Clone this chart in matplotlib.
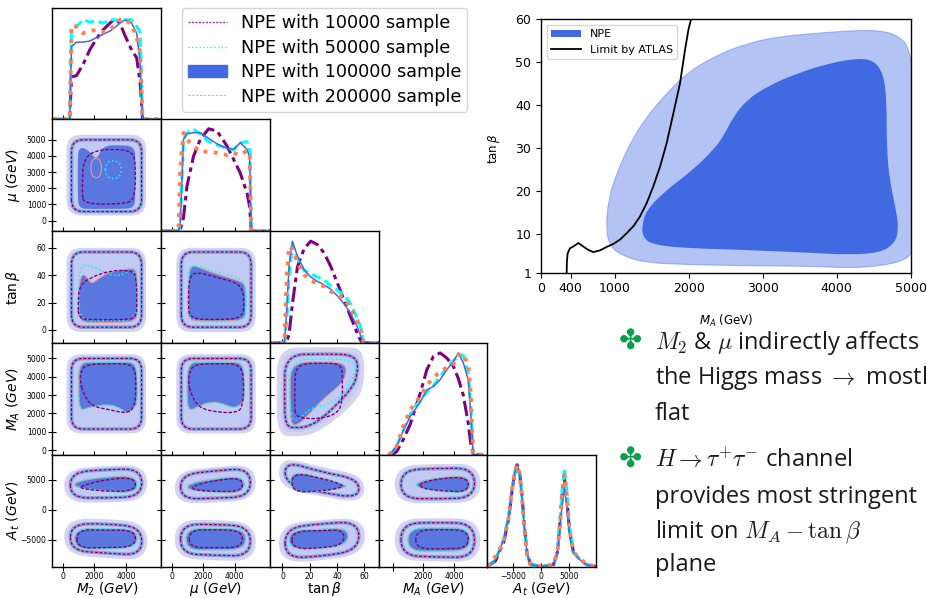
import numpy as np
import matplotlib
matplotlib.use("Agg")
import matplotlib.pyplot as plt
from matplotlib.path import Path
from matplotlib.patches import PathPatch, Patch
from matplotlib.lines import Line2D
from matplotlib.transforms import blended_transform_factory

# ---------------------------------------------------------------------------
# 1D marginals: density heights given as fraction of the panel height
# ---------------------------------------------------------------------------
M2_GRID = [-600, 450, 560, 870, 1290, 1710, 2140, 2560, 2990, 3300, 3620, 3940, 4360, 4680, 4900, 5050, 6200]
M2_10K = [0, 0, .38, .39, .49, .62, .72, .80, .86, .90, .86, .75, .62, .55, .33, 0, 0]
M2_50K = [0, 0, .80, .83, .89, .87, .88, .86, .89, .89, .88, .89, .89, .83, .78, 0, 0]
M2_100K = [0, 0, .65, .69, .69, .70, .73, .76, .79, .82, .86, .89, .86, .77, .50, 0, 0]
M2_200K = [0, 0, .84, .83, .77, .79, .80, .78, .80, .84, .89, .90, .84, .73, .60, 0, 0]

MU_GRID = [-650, 420, 530, 740, 960, 1380, 1810, 2340, 2880, 3520, 3940, 4360, 4790, 4960, 5060, 6250]
MU_10K = [0, 0, .01, .12, .40, .67, .82, .915, .895, .76, .64, .52, .34, .22, 0, 0]
MU_50K = [0, 0, .05, .82, .88, .91, .87, .80, .77, .74, .73, .79, .80, .72, 0, 0]
MU_100K = [0, 0, .05, .82, .87, .88, .88, .83, .78, .74, .73, .79, .73, .66, 0, 0]
MU_200K = [0, 0, .55, .88, .82, .76, .71, .71, .70, .68, .70, .68, .72, .70, 0, 0]

TB_GRID = [-9.5, 1.5, 3.2, 4.9, 7.3, 11, 15.8, 20.7, 25.6, 30.5, 35.4, 40.3, 45.1, 50, 54.9, 57.4, 59.5, 72]
TB_10K = [0, 0, .01, .08, .35, .68, .84, .91, .88, .805, .685, .535, .384, .234, .084, .02, 0, 0]
TB_50K = [0, 0, .2, .6, .88, .76, .65, .62, .59, .565, .51, .47, .43, .35, .22, .14, 0, 0]
TB_100K = [0, 0, .3, .7, .91, .775, .655, .59, .55, .52, .48, .42, .35, .264, .144, .06, 0, 0]
TB_200K = [0, 0, .62, .865, .84, .715, .61, .56, .53, .505, .46, .43, .40, .31, .20, .11, 0, 0]

MA_GRID = [-250, -40, 280, 710, 1140, 1790, 2220, 2650, 3080, 3510, 3940, 4260, 4580, 4900, 5060, 5220, 5850]
MA_10K = [0, 0, .03, .14, .27, .55, .76, .88, .91, .865, .79, .68, .53, .28, .10, 0, 0]
MA_50K = [0, .02, .08, .22, .36, .49, .56, .62, .70, .78, .84, .88, .89, .72, .45, 0, 0]
MA_100K = [0, .02, .08, .22, .34, .47, .58, .61, .67, .76, .835, .91, .82, .67, .37, 0, 0]
MA_200K = [0, .02, .08, .26, .40, .52, .62, .69, .74, .78, .81, .89, .90, .80, .55, 0, 0]

AT_GRID = [-9600, -8150, -6680, -5790, -5200, -4730, -4310, -3850, -3430, -3010, -2540, -1950, 0,
           2190, 2900, 3370, 3720, 4140, 4550, 5020, 5730, 6910, 8100, 9700]
AT_10K = [0, .05, .22, .43, .68, .83, .91, .84, .64, .37, .13, .02, 0, .015, .13, .40, .62, .78, .62, .33, .13, .06, .015, 0]
AT_50K = [0, .06, .25, .46, .70, .84, .90, .83, .62, .35, .12, .015, 0, .015, .14, .42, .68, .88, .68, .36, .13, .06, .015, 0]
AT_100K = [0, .06, .24, .45, .69, .836, .91, .836, .627, .358, .12, .015, 0, .015, .12, .36, .55, .69, .55, .30, .12, .06, .015, 0]
AT_200K = [0, .09, .22, .44, .70, .84, .91, .83, .62, .34, .11, .02, 0, .02, .13, .40, .66, .82, .64, .34, .13, .07, .02, 0]

# ---------------------------------------------------------------------------
# 2D credible regions (box extents or outline control points, data units)
# ---------------------------------------------------------------------------
MU_M2_HAZE = (380, 5140, 440, 5190)
MU_M2_2SIG = (560, 4990, 560, 5000)
MU_M2_1SIG = [(1000, 750), (1800, 720), (3600, 730), (4550, 760), (4600, 1700), (4600, 3600), (4560, 4600),
              (3600, 4680), (2500, 4620), (2150, 3700), (1700, 4350), (1000, 4600), (950, 3500), (960, 1700)]
MU_M2_10K = [(1300, 1150), (2300, 1000), (3600, 1050), (4400, 1150), (4600, 2000), (4600, 3500), (4450, 4300),
             (3000, 4450), (1800, 4250), (1300, 3600), (1250, 2500), (1250, 1600)]
MU_M2_50K = [(2700, 2600), (3700, 2600), (3700, 3700), (2700, 3700)]
MU_M2_200K = [(1800, 2650), (2450, 2650), (2450, 3850), (1800, 3850)]

TB_M2_HAZE = (380, 5140, 0, 58.5)
TB_M2_2SIG = (560, 4990, 2, 57)
TB_M2_1SIG = [(1050, 6), (2000, 5.5), (3600, 5.5), (4650, 6.5), (4720, 15), (4720, 35), (4650, 45), (4000, 44.5),
              (3000, 42.5), (2300, 38), (1800, 33), (1350, 42), (1050, 36), (1000, 20)]
TB_M2_10K = [(1000, 8), (2000, 7.5), (3800, 7.5), (4650, 8.5), (4700, 20), (4650, 40), (4300, 43.5), (3000, 43.5),
             (1700, 38), (1050, 32), (980, 20)]
TB_M2_50K = [(1050, 7), (2800, 6.5), (4650, 7), (4750, 25), (4600, 44), (4000, 42), (3400, 39), (2800, 41.5),
             (1900, 46.5), (1100, 48), (1000, 28)]

TB_MU_HAZE = (420, 5210, 0, 58.5)
TB_MU_2SIG = (600, 5050, 2, 57)
TB_MU_1SIG = [(1100, 7), (2000, 6.5), (3600, 6.5), (4650, 7.5), (4720, 15), (4700, 30), (4550, 35), (3500, 38.5),
              (2300, 43), (1500, 47), (1150, 46), (1050, 35), (1050, 15)]
TB_MU_10K = [(1100, 8), (2900, 7.5), (4500, 8.5), (4620, 20), (4450, 33.5), (3000, 38), (1600, 42.5), (1100, 39),
             (1050, 20)]
TB_MU_50K = [(1050, 6), (2900, 5.5), (4700, 6.5), (4780, 22), (4650, 37.5), (3000, 41.5), (1600, 47.5), (1050, 46),
             (1000, 25)]

MA_M2_HAZE = (380, 5140, 1020, 5120)
MA_M2_2SIG = (560, 4990, 1150, 5000)
MA_M2_1SIG = [(1050, 2150), (1600, 2300), (2200, 2430), (3000, 2480), (3600, 2300), (4100, 1980), (4450, 2300),
              (4720, 2500), (4720, 3700), (4650, 4800), (3600, 4800), (2000, 4800), (1050, 4780), (1000, 3500)]
MA_M2_10K = [(1300, 3100), (1800, 2400), (3000, 2200), (4000, 2000), (4550, 2300), (4650, 3500), (4550, 4700),
             (3000, 4720), (1500, 4680), (1150, 4300), (1100, 3800)]

MA_MU_HAZE = (420, 5210, 1020, 5120)
MA_MU_2SIG = (600, 5050, 1150, 5000)
MA_MU_1SIG = [(1000, 2050), (1800, 2450), (2650, 2650), (3300, 2500), (4000, 2280), (4400, 2500), (4620, 2700),
              (4620, 3700), (4550, 4780), (3500, 4800), (2000, 4800), (1050, 4780), (950, 3500)]
MA_MU_10K = [(1200, 3100), (1700, 2300), (3000, 2050), (4200, 2050), (4500, 2400), (4600, 3500), (4450, 4700),
             (2900, 4720), (1400, 4680), (1100, 4200), (1050, 3700)]

MA_TB_HAZE = [(-2, 950), (8, 850), (18, 900), (30, 1300), (42, 2000), (52, 2700), (58.5, 3500), (58.5, 5450),
              (45, 5500), (20, 5500), (-2, 5450), (-3, 3000)]
MA_TB_2SIG = [(2, 1300), (10, 1200), (20, 1300), (30, 1800), (40, 2500), (50, 3300), (55, 4000), (55, 5200),
              (30, 5250), (2, 5200), (1.5, 3000)]
MA_TB_1SIG = [(6, 1400), (11, 1350), (20, 2000), (30, 2800), (40, 3400), (46, 3900), (47, 4750), (30, 4820),
              (6, 4780), (5.5, 3000)]
MA_TB_10K = [(9.5, 1850), (18, 1700), (30, 1750), (40, 2000), (44, 2600), (44, 4000), (43, 4700), (30, 4750),
             (10, 4700), (9, 3500), (9, 2500)]
MA_TB_50K = [(8, 1500), (15, 1900), (22, 2350), (33, 2450), (43, 2950), (52, 3900), (54, 4900), (30, 5000),
             (5, 4900), (5, 2500)]

AT_M2_HAZE = [[(235, 1600), (2700, 1500), (5210, 1900), (5210, 7100), (2700, 7000), (235, 6400)],
              [(235, -7100), (2700, -7700), (5210, -8100), (5210, -2500), (2700, -1800), (235, -1900)]]
AT_M2_2SIG = [[(490, 2000), (2700, 1950), (5000, 2200), (5000, 6800), (2700, 6700), (490, 6200)],
              [(490, -6800), (2700, -7200), (5000, -7600), (5000, -2900), (2700, -2300), (490, -2400)]]
AT_M2_1SIG = [[(760, 3700), (2700, 3100), (4700, 2750), (4700, 5650), (2700, 5500), (760, 4700)],
              [(760, -6600), (2700, -6500), (4700, -6300), (4700, -3200), (2700, -3200), (760, -3100)]]
AT_M2_10K = [[(1150, 3500), (3000, 3000), (4600, 3200), (4600, 5300), (3000, 5200), (1150, 4000)],
             [(900, -6400), (2700, -6300), (4600, -6200), (4600, -3400), (2700, -3400), (900, -3300)]]

AT_MU_HAZE = [[(320, 1400), (2700, 1500), (5210, 2000), (5210, 7200), (2700, 6800), (320, 6000)],
              [(320, -7700), (2700, -8100), (5210, -8200), (5210, -2500), (2700, -2000), (320, -2100)]]
AT_MU_2SIG = [[(560, 1800), (2700, 1900), (5000, 2200), (5000, 6900), (2700, 6500), (560, 5800)],
              [(560, -7300), (2700, -7600), (5000, -7700), (5000, -2800), (2700, -2400), (560, -2500)]]
AT_MU_1SIG = [[(1000, 3300), (2700, 2900), (4600, 2800), (4600, 5600), (2700, 5200), (1000, 4300)],
              [(900, -6700), (2700, -6700), (4700, -6600), (4700, -3200), (2700, -3100), (900, -3100)]]
AT_MU_10K = [[(1300, 3300), (3000, 3000), (4500, 3100), (4500, 5300), (3000, 5000), (1300, 4000)],
             [(1100, -6300), (2700, -6300), (4500, -6300), (4500, -3500), (2700, -3300), (1100, -3400)]]

AT_TB_HAZE = [[(-1, 3900), (28, 2600), (58.5, 1400), (58.5, 5500), (28, 6700), (-1, 8600)],
              [(-1, -8400), (28, -8200), (59, -7000), (59, -1700), (28, -2000), (-1, -2800)]]
AT_TB_2SIG = [[(2, 4300), (28, 2900), (56, 1900), (56, 5100), (28, 6300), (2, 8100)],
              [(2, -8000), (28, -7800), (56, -6700), (56, -2000), (28, -2300), (2, -3100)]]
AT_TB_1SIG = [[(6, 2900), (28, 3000), (46.5, 3750), (46.5, 4100), (28, 5400), (6, 6500)],
              [(5, -6600), (28, -6500), (48, -5800), (48, -3000), (28, -3300), (5, -3400)]]
AT_TB_10K = [[(7, 2900), (28, 3100), (44, 3700), (44, 4200), (28, 5300), (7, 6200)],
             [(7, -6500), (28, -6400), (45, -5800), (45, -3300), (28, -3500), (7, -3600)]]

AT_MA_HAZE = [[(280, 1500), (2900, 1400), (5550, 1600), (5550, 7300), (2900, 7300), (280, 7000)],
              [(280, -8000), (2900, -8300), (5550, -8300), (5550, -1900), (2900, -1700), (280, -1900)]]
AT_MA_2SIG = [[(550, 1900), (2900, 1800), (5300, 2000), (5300, 6900), (2900, 6900), (550, 6600)],
              [(550, -7600), (2900, -7900), (5300, -7900), (5300, -2300), (2900, -2100), (550, -2300)]]
AT_MA_1SIG = [[(1550, 3700), (3200, 3000), (5000, 2800), (5000, 5600), (3200, 5500), (1550, 4600)],
              [(1000, -6900), (3000, -6900), (5000, -6800), (5000, -3100), (3000, -3000), (1000, -3100)]]
AT_MA_10K = [[(1800, 3600), (3300, 3100), (4900, 3000), (4900, 5400), (3300, 5300), (1800, 4500)],
             [(1500, -6500), (3200, -6500), (4900, -6400), (4900, -3400), (3200, -3300), (1500, -3400)]]

# ---------------------------------------------------------------------------
# M_A - tan(beta) plane: NPE regions and the ATLAS exclusion line
# ---------------------------------------------------------------------------
NPE_OUTER_MA = [879, 910, 1023, 1204, 1429, 1700, 1970, 2331, 2782, 3233, 3683, 4134, 4585, 4856, 4991,
                5081, 5081, 5081, 5036, 4946, 4585, 4134, 3683, 2782, 1970, 1429, 1113, 933]
NPE_OUTER_TB = [11.0, 18.0, 24.1, 31.2, 37.3, 42.8, 47.4, 51.3, 54.4, 56.0, 56.7, 57.3, 57.5, 56.0, 52.9,
                41.2, 29.6, 14.1, 6.3, 4.0, 2.5, 2.1, 2.5, 2.6, 2.9, 3.3, 4.8, 7.1]
NPE_INNER_MA = [1362, 1429, 1700, 2060, 2331, 2466, 2601, 2782, 3052, 3458, 3909, 4270, 4495, 4630,
                4675, 4675, 4721, 4811, 4833, 4788, 4585, 4134, 3683, 2782, 1970, 1519, 1384]
NPE_INNER_TB = [11.8, 15.7, 20.3, 25.0, 29.6, 32.7, 37.3, 41.2, 44.3, 47.4, 49.8, 50.9, 50.5, 47.4,
                41.2, 29.6, 21.9, 14.9, 11.0, 7.9, 5.6, 5.2, 5.6, 6.3, 6.7, 7.5, 9.1]
ATLAS_MA = [347, 350, 360, 392, 437, 505, 572, 640, 708, 798, 888, 978, 1068, 1159, 1249, 1339, 1429,
            1519, 1610, 1700, 1790, 1880, 1948, 1993, 2029, 2060]
ATLAS_TB = [1, 3.5, 5.5, 6.7, 7.1, 7.9, 7.1, 6.3, 5.8, 6.2, 7.0, 7.7, 8.7, 10.2, 11.8, 14.1, 17.2,
            21.1, 25.7, 31.2, 38.1, 45.1, 52.9, 57.5, 60, 62]

LABELS = [r'$M_2\ (GeV)$', r'$\mu\ (GeV)$', r'$\tan\beta$', r'$M_A\ (GeV)$', r'$A_t\ (GeV)$']
X_RANGES = [(-640, 6230), (-680, 6250), (-9.2, 70.5), (-900, 6130), (-9610, 9770)]
Y_RANGES = [None, (-650, 6270), (-9.5, 72.3), (-250, 5850), (-9450, 9170)]
X_TICKS = [[0, 2000, 4000], [0, 2000, 4000], [0, 20, 40, 60], [0, 2000, 4000], [-5000, 0, 5000]]
Y_TICKS = [None, [0, 1000, 2000, 3000, 4000, 5000], [0, 20, 40, 60],
           [0, 1000, 2000, 3000, 4000, 5000], [-5000, 0, 5000]]

SAMPLE_LABELS = ['NPE with 10000 sample', 'NPE with 50000 sample',
                 'NPE with 100000 sample', 'NPE with 200000 sample']


def bspline_path(pts):
    """Closed quadratic B-spline through the midpoints of a control polygon."""
    pts = np.asarray(pts, dtype=float)
    mids = (pts + np.roll(pts, -1, axis=0)) / 2
    verts = [mids[-1]]
    codes = [Path.MOVETO]
    for p, m in zip(pts, mids):
        verts += [p, m]
        codes += [Path.CURVE3, Path.CURVE3]
    verts.append(mids[-1])
    codes.append(Path.CLOSEPOLY)
    return Path(verts, codes)


def box(x0, x1, y0, y1):
    """Control polygon of a rounded box spanning the given extents."""
    xs = np.linspace(x0, x1, 4)
    ys = np.linspace(y0, y1, 4)
    return [(xs[0], ys[0]), (xs[1], ys[0]), (xs[2], ys[0]), (xs[3], ys[0]),
            (xs[3], ys[1]), (xs[3], ys[2]), (xs[3], ys[3]), (xs[2], ys[3]),
            (xs[1], ys[3]), (xs[0], ys[3]), (xs[0], ys[2]), (xs[0], ys[1])]


MARGINALS = {
    0: (M2_GRID, [M2_10K, M2_50K, M2_100K, M2_200K]),
    1: (MU_GRID, [MU_10K, MU_50K, MU_100K, MU_200K]),
    2: (TB_GRID, [TB_10K, TB_50K, TB_100K, TB_200K]),
    3: (MA_GRID, [MA_10K, MA_50K, MA_100K, MA_200K]),
    4: (AT_GRID, [AT_10K, AT_50K, AT_100K, AT_200K]),
}

CONTOURS = {
    (1, 0): dict(haze=[box(*MU_M2_HAZE)], two=[box(*MU_M2_2SIG)], one=[MU_M2_1SIG],
                 r10=[MU_M2_10K], r50=[MU_M2_50K], r200=[MU_M2_200K]),
    (2, 0): dict(haze=[box(*TB_M2_HAZE)], two=[box(*TB_M2_2SIG)], one=[TB_M2_1SIG],
                 r10=[TB_M2_10K], r50=[TB_M2_50K]),
    (2, 1): dict(haze=[box(*TB_MU_HAZE)], two=[box(*TB_MU_2SIG)], one=[TB_MU_1SIG],
                 r10=[TB_MU_10K], r50=[TB_MU_50K]),
    (3, 0): dict(haze=[box(*MA_M2_HAZE)], two=[box(*MA_M2_2SIG)], one=[MA_M2_1SIG], r10=[MA_M2_10K]),
    (3, 1): dict(haze=[box(*MA_MU_HAZE)], two=[box(*MA_MU_2SIG)], one=[MA_MU_1SIG], r10=[MA_MU_10K]),
    (3, 2): dict(haze=[MA_TB_HAZE], two=[MA_TB_2SIG], one=[MA_TB_1SIG], r10=[MA_TB_10K], r50=[MA_TB_50K]),
    (4, 0): dict(haze=AT_M2_HAZE, two=AT_M2_2SIG, one=AT_M2_1SIG, r10=AT_M2_10K),
    (4, 1): dict(haze=AT_MU_HAZE, two=AT_MU_2SIG, one=AT_MU_1SIG, r10=AT_MU_10K),
    (4, 2): dict(haze=AT_TB_HAZE, two=AT_TB_2SIG, one=AT_TB_1SIG, r10=AT_TB_10K),
    (4, 3): dict(haze=AT_MA_HAZE, two=AT_MA_2SIG, one=AT_MA_1SIG, r10=AT_MA_10K),
}

LINE_STYLES = [
    dict(color='purple', lw=2.2, ls=(0, (5, 1.5, 1.5, 1.5))),
    dict(color='cyan', lw=2.2, ls=(0, (3, 1.5))),
    dict(color='royalblue', lw=1.1, ls='-'),
    dict(color='coral', lw=2.8, ls=':'),
]


def draw_contours(ax, haze, two, one, r10, r50=None, r200=None):
    for shp in haze:
        ax.add_patch(PathPatch(bspline_path(shp), fc='#cbcbee', ec='#d4d4f2', lw=3, zorder=1))
    for shp in two:
        p = bspline_path(shp)
        ax.add_patch(PathPatch(p, fc='#c1caf2', ec='#8d9ce4', lw=2.6, zorder=2))
        ax.add_patch(PathPatch(p, fc='none', ec='lightsalmon', lw=0.7, zorder=3))
        ax.add_patch(PathPatch(p, fc='none', ec='cyan', lw=1.0, ls=':', zorder=3))
        ax.add_patch(PathPatch(p, fc='none', ec='purple', lw=0.9, ls=(0, (2.5, 1.2)), zorder=3))
    for shp in one:
        ax.add_patch(PathPatch(bspline_path(shp), fc='#5a77df', ec='none', zorder=4))
    for shp in (r200 or one):
        ax.add_patch(PathPatch(bspline_path(shp), fc='none', ec='#e39a8a', lw=0.8, zorder=5))
    for shp in (r50 or one):
        ax.add_patch(PathPatch(bspline_path(shp), fc='none', ec='cyan', lw=1.1, ls=':', zorder=5))
    for shp in r10:
        ax.add_patch(PathPatch(bspline_path(shp), fc='none', ec='purple', lw=1.0,
                               ls=(0, (2.5, 1.2)), zorder=6))


fig = plt.figure(figsize=(9.28, 5.98), dpi=100)
W, H = 928, 598


def px_axes(x0, y0, x1, y1):
    return fig.add_axes([x0 / W, 1 - y1 / H, (x1 - x0) / W, (y1 - y0) / H])


COL_X = [52.5, 161.2, 269.9, 378.6, 487.3, 596.0]
ROW_Y = [7.5, 119.3, 231.1, 342.9, 454.7, 566.5]

for i in range(5):
    for j in range(i + 1):
        ax = px_axes(COL_X[j], ROW_Y[i], COL_X[j + 1], ROW_Y[i + 1])
        for s in ax.spines.values():
            s.set_linewidth(1.0)
        ax.set_xlim(*X_RANGES[j])
        ax.set_xticks(X_TICKS[j])
        ax.tick_params(axis='x', direction='inout', length=6, width=0.8,
                       labelsize=5.5, pad=1.2, labelbottom=(i == 4))
        if i == j:
            grid, curves = MARGINALS[i]
            trans = blended_transform_factory(ax.transData, ax.transAxes)
            for dens, style in zip(curves, LINE_STYLES):
                ax.plot(grid, dens, transform=trans, **style)
            if Y_RANGES[i] is not None and i >= 2:
                ax.set_ylim(*Y_RANGES[i])
                ax.set_yticks(Y_TICKS[i])
                ax.tick_params(axis='y', direction='out', length=3, width=0.8, labelleft=False)
            else:
                ax.set_yticks([])
        else:
            draw_contours(ax, **CONTOURS[(i, j)])
            ax.set_ylim(*Y_RANGES[i])
            ax.set_yticks(Y_TICKS[i])
            ax.tick_params(axis='y', direction='inout', length=6, width=0.8,
                           labelsize=5.5, pad=1.5, labelleft=(j == 0))
        if j == 3 and i == 4:
            ax.set_xticklabels(['', '2000', '4000'])
        if j == 0 and i > 0:
            ax.set_ylabel(LABELS[i], fontsize=10)
            ax.yaxis.set_label_coords(-0.285, 0.5)
        if i == 4:
            ax.set_xlabel(LABELS[j], fontsize=9.8)
            ax.xaxis.set_label_coords(0.5, -0.125)

legend_handles = [
    Line2D([], [], color='purple', lw=1.0, ls=(0, (1.5, 1)), alpha=0.8),
    Line2D([], [], color='cyan', lw=1.0, ls=':'),
    Patch(facecolor='royalblue', edgecolor='royalblue'),
    Line2D([], [], color='lightsalmon', lw=0.8, ls=(0, (2, 1.5))),
]
fig.legend(legend_handles, SAMPLE_LABELS, loc='upper left',
           bbox_to_anchor=(181.7 / W, 1 - 8.3 / H), borderaxespad=0,
           fontsize=12.7, handlelength=2.2, labelspacing=0.36, borderpad=0.35)

# M_A - tan(beta) plane
axr = px_axes(541, 19.3, 910.7, 272.7)
axr.add_patch(PathPatch(bspline_path(list(zip(NPE_OUTER_MA, NPE_OUTER_TB))),
                        fc='royalblue', alpha=0.4, ec='royalblue', lw=0.8, zorder=1))
axr.add_patch(PathPatch(bspline_path(list(zip(NPE_INNER_MA, NPE_INNER_TB))),
                        fc='royalblue', ec='none', zorder=2))
axr.plot(ATLAS_MA, ATLAS_TB, color='black', lw=1.3, zorder=3)
axr.set_xlim(0, 5000)
axr.set_ylim(1, 60)
axr.set_xticks([0, 400, 1000, 2000, 3000, 4000, 5000])
axr.set_yticks([1, 10, 20, 30, 40, 50, 60])
axr.tick_params(labelsize=9)
for s in axr.spines.values():
    s.set_linewidth(1.0)
axr.set_xlabel(r'$M_A$ (GeV)', fontsize=8.5)
axr.xaxis.set_label_coords(0.5, -0.16)
axr.set_ylabel(r'$\tan\beta$', fontsize=8.5)
axr.yaxis.set_label_coords(-0.105, 0.49)
axr.legend([Patch(facecolor='royalblue'), Line2D([], [], color='black', lw=1.3)],
           ['NPE', 'Limit by ATLAS'], loc='upper left', fontsize=8, handlelength=2.7)

# Bullet notes (the slide text runs past the right edge)
NOTE_LINES = [
    (349, r'$M_2$ & $\mu$ indirectly affects'),
    (384, r'the Higgs mass $\rightarrow$ mostly'),
    (420, 'flat'),
    (467, r'$H \rightarrow \tau^{+}\tau^{-}$ channel'),
    (503, 'provides most stringent'),
    (538, r'limit on $M_A - \tan\beta$'),
    (571, 'plane'),
]
for y, txt in NOTE_LINES:
    fig.text(655 / W, 1 - y / H, txt, fontsize=17, family=['Open Sans', 'DejaVu Sans'],
             math_fontfamily='cm', color='#1a1a1a', va='baseline', ha='left')
for y in (342, 460):
    fig.text(630 / W, 1 - y / H, '\u2724', fontsize=20, family=['DejaVu Sans'],
             color='#0aa04a', ha='center', va='center')

fig.savefig('out.png', dpi=100)
